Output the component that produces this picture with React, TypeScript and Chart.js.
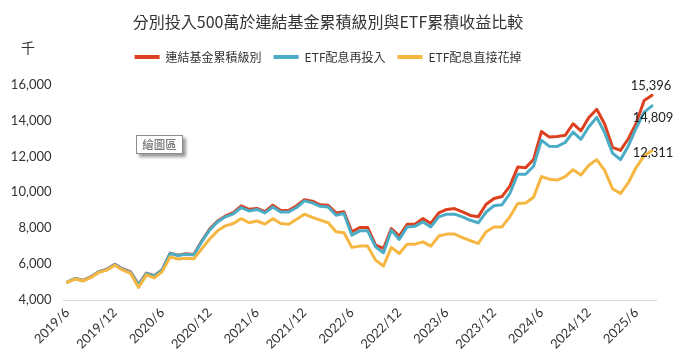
import React, { useEffect, useRef } from "react";
import { Chart, registerables } from "chart.js";

Chart.register(...registerables);

const categories = [
  "2019/6", "2019/7", "2019/8", "2019/9", "2019/10", "2019/11", "2019/12",
  "2020/1", "2020/2", "2020/3", "2020/4", "2020/5", "2020/6", "2020/7", "2020/8", "2020/9", "2020/10", "2020/11", "2020/12",
  "2021/1", "2021/2", "2021/3", "2021/4", "2021/5", "2021/6", "2021/7", "2021/8", "2021/9", "2021/10", "2021/11", "2021/12",
  "2022/1", "2022/2", "2022/3", "2022/4", "2022/5", "2022/6", "2022/7", "2022/8", "2022/9", "2022/10", "2022/11", "2022/12",
  "2023/1", "2023/2", "2023/3", "2023/4", "2023/5", "2023/6", "2023/7", "2023/8", "2023/9", "2023/10", "2023/11", "2023/12",
  "2024/1", "2024/2", "2024/3", "2024/4", "2024/5", "2024/6", "2024/7", "2024/8", "2024/9", "2024/10", "2024/11", "2024/12",
  "2025/1", "2025/2", "2025/3", "2025/4", "2025/5", "2025/6", "2025/7", "2025/8",
];

const xTickLabels = [
  "2019/6", "2019/12", "2020/6", "2020/12", "2021/6", "2021/12", "2022/6",
  "2022/12", "2023/6", "2023/12", "2024/6", "2024/12", "2025/6",
];

const seriesNames = ["連結基金累積級別", "ETF配息再投入", "ETF配息直接花掉"];

const fundAccumulation = [
  5000, 5200, 5090, 5300, 5580, 5710, 5990, 5730, 5560, 4860,
  5500, 5350, 5690, 6610, 6500, 6580, 6530, 7280, 7950, 8400,
  8680, 8860, 9240, 9050, 9100, 8920, 9280, 8980, 8980, 9250,
  9590, 9500, 9300, 9270, 8850, 8910, 7800, 8040, 8040, 7060,
  6870, 7980, 7560, 8220, 8220, 8540, 8260, 8850, 9040, 9090,
  8910, 8710, 8640, 9330, 9650, 9760, 10340, 11400, 11370, 11820,
  13380, 13070, 13110, 13170, 13815, 13420, 14160, 14620, 13800, 12500,
  12330, 12980, 13850, 15110, 15396,
];

const etfReinvest = [
  5010, 5200, 5080, 5290, 5570, 5700, 5980, 5710, 5540, 4830,
  5480, 5330, 5670, 6590, 6480, 6550, 6500, 7250, 7900, 8350,
  8630, 8800, 9150, 8960, 9040, 8850, 9180, 8900, 8900, 9150,
  9520, 9410, 9220, 9185, 8720, 8815, 7610, 7850, 7850, 6960,
  6630, 7890, 7370, 8070, 8110, 8350, 8070, 8630, 8780, 8780,
  8630, 8440, 8300, 8900, 9250, 9300, 9930, 11000, 11000, 11450,
  12900, 12556, 12550, 12770, 13350, 12950, 13650, 14170, 13320, 12180,
  11815, 12580, 13580, 14460, 14809,
];

const etfSpend = [
  4990, 5170, 5060, 5260, 5540, 5670, 5940, 5660, 5480, 4700,
  5400, 5230, 5580, 6400, 6280, 6330, 6300, 6850, 7400, 7850,
  8130, 8260, 8530, 8300, 8400, 8230, 8530, 8260, 8220, 8500,
  8780, 8600, 8450, 8300, 7800, 7740, 6930, 7000, 7000, 6220,
  5890, 6930, 6590, 7110, 7110, 7240, 7000, 7560, 7670, 7670,
  7480, 7300, 7150, 7800, 8070, 8070, 8630, 9370, 9400, 9720,
  10870, 10730, 10680, 10870, 11260, 10960, 11500, 11815, 11220, 10200,
  9926, 10530, 11390, 12030, 12311,
];

const yMin = 4000;
const yMax = 16000;
const yStep = 2000;

const colors = ["#DC401F", "#4BACC6", "#F5B642"];

export default function App() {
  const ref = useRef<HTMLCanvasElement>(null);

  useEffect(() => {
    document.body.style.margin = "0";
    const canvas = ref.current;
    if (!canvas) return;

    const endLabels = {
      id: "endLabels",
      afterDatasetsDraw(chart: any) {
        const ctx = chart.ctx;
        ctx.save();
        ctx.font = "13px Lato";
        ctx.fillStyle = "#222";
        ctx.textAlign = "center";
        ctx.textBaseline = "middle";
        const offsets = [
          [-1, -10],
          [1, 12],
          [1, 2],
        ];
        chart.data.datasets.forEach((ds: any, i: number) => {
          const meta = chart.getDatasetMeta(i);
          const pt = meta.data[meta.data.length - 1];
          const v = ds.data[ds.data.length - 1];
          ctx.fillText(Number(v).toLocaleString("en-US"), pt.x + offsets[i][0], pt.y + offsets[i][1]);
        });
        ctx.font = '14px "Noto Sans CJK TC"';
        ctx.fillStyle = "#333";
        ctx.fillText("千", 28, 48);
        ctx.restore();
      },
    };

    const chart = new Chart(canvas, {
      type: "line",
      data: {
        labels: categories,
        datasets: [
          { label: seriesNames[0], data: fundAccumulation, borderColor: colors[0], backgroundColor: colors[0], order: 3 },
          { label: seriesNames[1], data: etfReinvest, borderColor: colors[1], backgroundColor: colors[1], order: 2 },
          { label: seriesNames[2], data: etfSpend, borderColor: colors[2], backgroundColor: colors[2], order: 1 },
        ],
      },
      options: {
        responsive: false,
        animation: false,
        devicePixelRatio: 1,
        layout: { padding: { left: 0, right: 29, top: 0, bottom: 0 } },
        elements: {
          line: { borderWidth: 3, tension: 0, fill: false, borderJoinStyle: "round", borderCapStyle: "round" },
          point: { radius: 0, hoverRadius: 0 },
        },
        plugins: {
          title: {
            display: true,
            text: "分別投入500萬於連結基金累積級別與ETF累積收益比較",
            color: "#333",
            font: { family: '"Noto Sans CJK TC"', size: 16, weight: "normal" },
            padding: { top: 12.4, bottom: 7.4 },
          },
          legend: {
            display: true,
            position: "top",
            labels: {
              boxWidth: 25,
              boxHeight: 4,
              padding: 12,
              color: "#333",
              font: { family: '"Noto Sans CJK TC"', size: 12 },
              generateLabels: (c: any) =>
                c.data.datasets.map((ds: any, i: number) => ({
                  text: ds.label,
                  fillStyle: ds.borderColor,
                  strokeStyle: ds.borderColor,
                  lineWidth: 0,
                  hidden: false,
                  datasetIndex: i,
                  fontColor: "#333",
                })),
            },
          },
          subtitle: {
            display: true,
            text: "",
            padding: 0,
            weight: 500,
            font: { size: 9.58 },
          } as any,
          tooltip: { enabled: false },
        },
        scales: {
          x: {
            type: "category",
            offset: true,
            grid: { display: false, drawTicks: false },
            border: { display: true, color: "#D9D9D9", width: 1 },
            ticks: {
              autoSkip: false,
              maxRotation: 45,
              minRotation: 45,
              padding: 5,
              color: "#333",
              font: { family: "Lato", size: 13 },
              callback: (_v: any, idx: number) =>
                xTickLabels.includes(categories[idx]) ? categories[idx] : "",
            },
            afterFit: (scale: any) => {
              scale.height = 62;
            },
          },
          y: {
            min: yMin,
            max: yMax,
            grid: { display: false, drawTicks: false },
            border: { display: false },
            ticks: {
              stepSize: yStep,
              padding: 12,
              color: "#333",
              font: { family: "Lato", size: 13 },
              callback: (v: any) => Number(v).toLocaleString("en-US"),
            },
            afterFit: (scale: any) => {
              scale.width = 63.5;
            },
          },
        },
      } as any,
      plugins: [endLabels],
    });

    return () => chart.destroy();
  }, []);

  return (
    <div style={{ position: "relative", width: 685, height: 362, background: "#fff" }}>
      <canvas ref={ref} width={685} height={362} style={{ width: 685, height: 362, display: "block" }} />
      <div
        style={{
          position: "absolute",
          left: 136,
          top: 135,
          width: 47,
          height: 19,
          boxSizing: "border-box",
          border: "1px solid #8c8c8c",
          boxShadow: "3px 3px 3px #9a9a9a",
          background: "#fff",
          fontFamily: '"Noto Sans CJK TC"',
          fontSize: 11.5,
          lineHeight: "17px",
          color: "#555",
          textAlign: "center",
        }}
      >
        繪圖區
      </div>
    </div>
  );
}
